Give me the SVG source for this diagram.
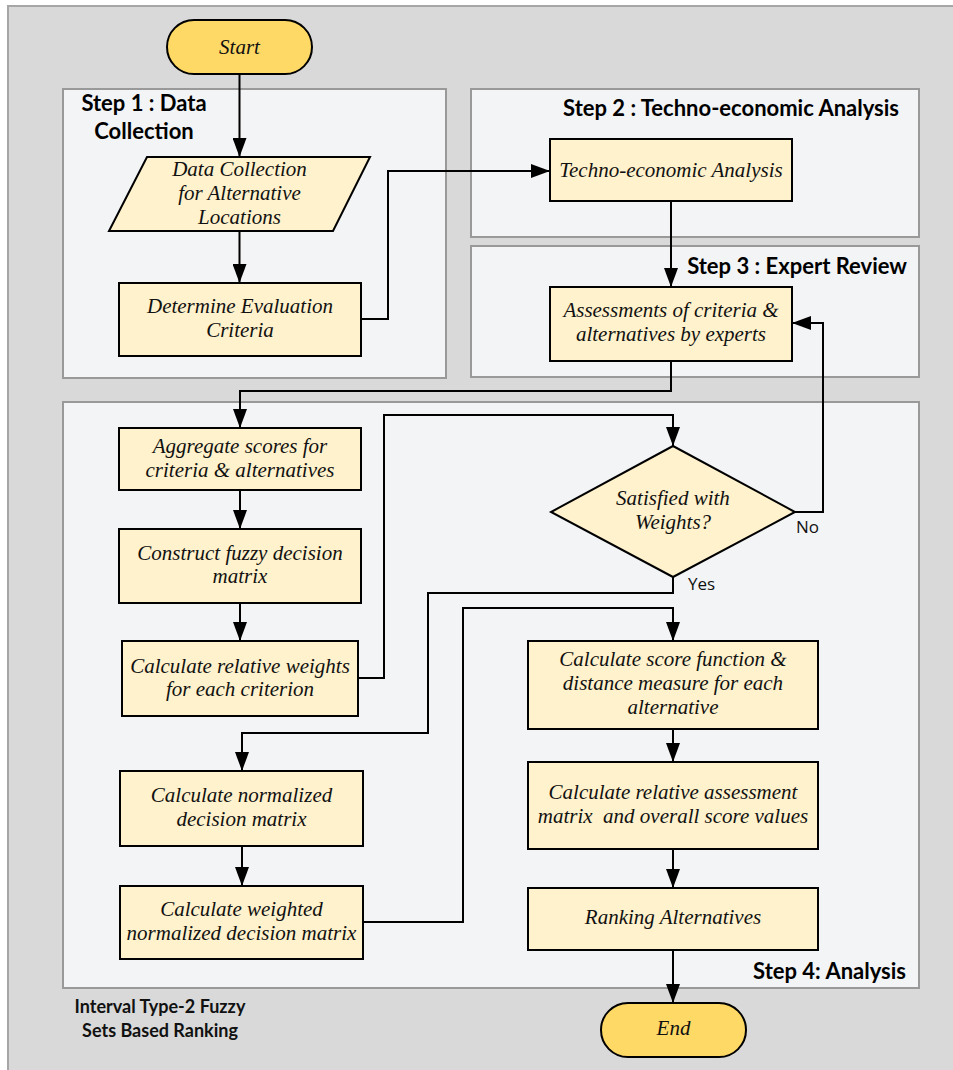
<svg xmlns="http://www.w3.org/2000/svg" width="953" height="1070" viewBox="0 0 953 1070">
<defs>
<marker id="arr" markerUnits="userSpaceOnUse" markerWidth="20" markerHeight="14" viewBox="0 0 20 14" refX="19" refY="7" orient="auto">
<path d="M0,0 L19,7 L0,14 Z" fill="#000"/>
</marker>
<style>
.outer{fill:#d9d9d9;stroke:#a6a6a6;stroke-width:2}
.panel{fill:#f3f4f6;stroke:#999;stroke-width:2}
.node{fill:#fff2cc;stroke:#000;stroke-width:2}
.term{fill:#ffd966;stroke:#000;stroke-width:2}
.t{font-family:"Liberation Serif",serif;font-style:italic;font-size:21px;fill:#111;text-anchor:middle}
.h{font-family:Lato,"Liberation Sans",sans-serif;font-weight:bold;font-size:22px;fill:#000}
.h2{font-family:Lato,"Liberation Sans",sans-serif;font-weight:bold;font-size:18px;fill:#111}
.lab{font-family:"Open Sans","Liberation Sans",sans-serif;font-size:17px;fill:#111}
.c{fill:none;stroke:#000;stroke-width:2;marker-end:url(#arr)}
</style>
</defs>
<rect class="outer" x="8" y="6" width="960" height="1080"/>
<g id="panels">
<rect class="panel" x="63" y="89" width="383" height="289"/>
<rect class="panel" x="471" y="89" width="448" height="148"/>
<rect class="panel" x="471" y="246" width="448" height="131"/>
<rect class="panel" x="63" y="402" width="856" height="586"/>
<text class="h" x="144" y="111" text-anchor="middle">Step 1 : Data</text>
<text class="h" x="144" y="139" text-anchor="middle">Collection</text>
<text class="h" x="899" y="116" text-anchor="end">Step 2 : Techno-economic Analysis</text>
<text class="h" x="907" y="274" text-anchor="end">Step 3 : Expert Review</text>
<text class="h" x="906" y="979" text-anchor="end">Step 4: Analysis</text>
<text class="h2" x="160" y="1013" text-anchor="middle">Interval Type-2 Fuzzy</text>
<text class="h2" x="160" y="1037" text-anchor="middle">Sets Based Ranking</text>
</g>
<g id="connectors">
<path class="c" d="M239.5,74 V157"/>
<path class="c" d="M239.5,231 V283"/>
<path class="c" d="M361,319 H388 V171 H550"/>
<path class="c" d="M671,201 V287"/>
<path class="c" d="M671,361 V391 H240 V428"/>
<path class="c" d="M240,490 V529"/>
<path class="c" d="M240,603 V641"/>
<path class="c" d="M358,678 H384 V415 H673 V446"/>
<path class="c" d="M795,512 H823 V323 H792"/>
<path class="c" d="M673,577 V593 H428 V733 H242 V771"/>
<path class="c" d="M242,846 V886"/>
<path class="c" d="M363,922 H463 V608 H673 V641"/>
<path class="c" d="M673,729 V762"/>
<path class="c" d="M673,849 V888"/>
<path class="c" d="M673,950 V1003"/>
<text class="lab" x="796" y="533">No</text>
<text class="lab" x="688" y="590">Yes</text>
</g>
<g id="start">
<rect class="term" x="167" y="20" width="145" height="54" rx="27"/>
<text class="t" x="239.5" y="54">Start</text>
</g>
<g id="data-collection">
<polygon class="node" points="147,157 370,157 333,231 109,231"/>
<text class="t" x="239.5" y="176">Data Collection</text>
<text class="t" x="239.5" y="200">for Alternative</text>
<text class="t" x="239.5" y="224">Locations</text>
</g>
<g id="determine-criteria">
<rect class="node" x="119" y="283" width="242" height="73"/>
<text class="t" x="240" y="313">Determine Evaluation</text>
<text class="t" x="240" y="337">Criteria</text>
</g>
<g id="techno-economic">
<rect class="node" x="550" y="139" width="242" height="62"/>
<text class="t" x="671" y="177">Techno-economic Analysis</text>
</g>
<g id="assessments">
<rect class="node" x="550" y="287" width="242" height="74"/>
<text class="t" x="671" y="317">Assessments of criteria &amp;</text>
<text class="t" x="671" y="341">alternatives by experts</text>
</g>
<g id="aggregate">
<rect class="node" x="119" y="428" width="242" height="62"/>
<text class="t" x="240" y="453">Aggregate scores for</text>
<text class="t" x="240" y="477">criteria &amp; alternatives</text>
</g>
<g id="construct">
<rect class="node" x="119" y="529" width="242" height="74"/>
<text class="t" x="240" y="560">Construct fuzzy decision</text>
<text class="t" x="240" y="583">matrix</text>
</g>
<g id="relative-weights">
<rect class="node" x="122" y="641" width="236" height="75"/>
<text class="t" x="240" y="673">Calculate relative weights</text>
<text class="t" x="240" y="696">for each criterion</text>
</g>
<g id="satisfied">
<polygon class="node" points="673,446 795,512 673,577 551,512"/>
<text class="t" x="673" y="505">Satisfied with</text>
<text class="t" x="673" y="529">Weights?</text>
</g>
<g id="normalized">
<rect class="node" x="120" y="771" width="243" height="75"/>
<text class="t" x="241.5" y="802">Calculate normalized</text>
<text class="t" x="241.5" y="826">decision matrix</text>
</g>
<g id="weighted">
<rect class="node" x="120" y="886" width="243" height="73"/>
<text class="t" x="241.5" y="916">Calculate weighted</text>
<text class="t" x="241.5" y="940">normalized decision matrix</text>
</g>
<g id="score-function">
<rect class="node" x="528" y="641" width="290" height="88"/>
<text class="t" x="673" y="666">Calculate score function &amp;</text>
<text class="t" x="673" y="690">distance measure for each</text>
<text class="t" x="673" y="714">alternative</text>
</g>
<g id="relative-assessment">
<rect class="node" x="528" y="762" width="290" height="87"/>
<text class="t" x="673" y="799">Calculate relative assessment</text>
<text class="t" x="673" y="823" style="white-space:pre">matrix  and overall score values</text>
</g>
<g id="ranking">
<rect class="node" x="528" y="888" width="290" height="62"/>
<text class="t" x="673" y="924">Ranking Alternatives</text>
</g>
<g id="end">
<rect class="term" x="601" y="1003" width="145" height="54" rx="27"/>
<text class="t" x="673.5" y="1035">End</text>
</g>
</svg>
